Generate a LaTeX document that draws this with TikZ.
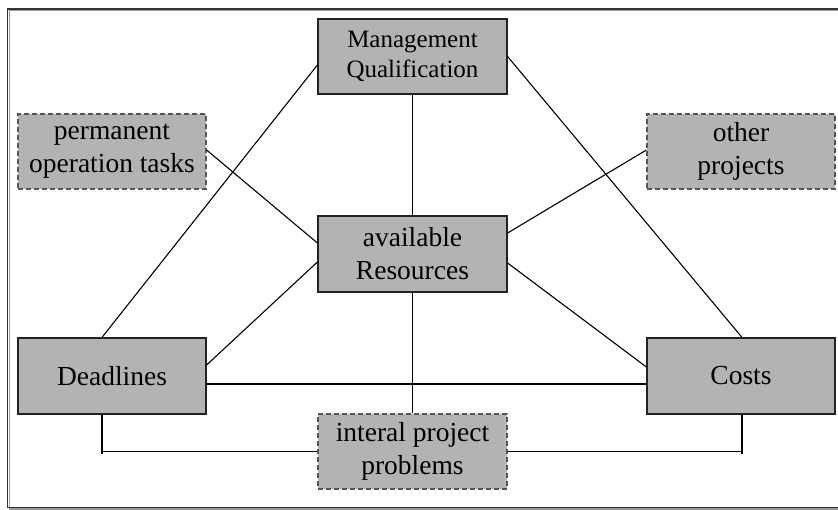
\documentclass[tikz,border=0pt]{standalone}
\usepackage{fontspec}
\setmainfont{Liberation Serif}
\usetikzlibrary{calc}
\definecolor{boxfill}{HTML}{B3B3B3}
\definecolor{boxline}{HTML}{222222}
\definecolor{dashline}{HTML}{555555}
\definecolor{framedark}{HTML}{333333}
\definecolor{frameshade}{HTML}{999999}
\begin{document}
\begin{tikzpicture}[x=1pt,y=-1pt,
  box/.style={draw=boxline,line width=1.2pt,fill=boxfill,minimum width=189pt,
    minimum height=75pt,inner sep=0pt,align=center,
    font=\fontsize{27.5}{33}\selectfont},
  dbox/.style={box,draw=dashline,dash pattern=on 5pt off 3pt},
  link/.style={draw=black,line width=1.1pt}]
\useasboundingbox (0,0) rectangle (838,510);
% outer frame with a light shade
\draw[frameshade,line width=1.3pt] (9.2,10.3) rectangle (850,509);
\draw[framedark,line width=1.3pt] (7.8,9) rectangle (848,507.7);

% nodes
\node[box,font=\fontsize{25}{30}\selectfont] (mgmt) at (412.5,56.5) {Management\\Qualification};
\node[dbox,minimum width=188pt] (perm) at (112,151.5) {permanent\\operation tasks};
\node[dbox,minimum width=188pt] (other) at (741,151.5) {other\\projects};
\node[box,minimum height=76pt] (res) at (412.5,254) {available\\Resources};
\node[box,minimum width=188pt,minimum height=76pt] (dead) at (112,376) {Deadlines};
\node[box,minimum width=188pt,minimum height=76pt] (costs) at (741,376) {Costs};
\node[dbox] (intern) at (412.5,451.5) {interal project\\problems};

% connectors
\draw[link] ([yshift=-8.5pt]mgmt.west) -- ([xshift=-10pt]dead.north);
\draw[link] (mgmt.east) -- ([xshift=1pt]costs.north);
\draw[link] (mgmt.south) -- (res.north);
\draw[link] ([yshift=1.5pt]perm.east) -- ([yshift=11pt]res.west);
\draw[link] ([yshift=1.5pt]other.west) -- ([yshift=21pt]res.east);
\draw[link] ([yshift=-8pt]res.west) -- ([yshift=11pt]dead.east);
\draw[link] ([yshift=-9pt]res.east) -- ([yshift=9pt]costs.west);
\draw[link] (res.south) -- (intern.north);
\draw[link] ([yshift=-8pt]dead.east) -- ([yshift=-8pt]costs.west);
\coordinate (dl) at (102,453.5);
\coordinate (cl) at (742,453.5);
\draw[link] ([xshift=-10pt]dead.south) -- (dl);
\draw[link] (dl |- intern.west) -- (intern.west);
\draw[link] ([xshift=1pt]costs.south) -- (cl);
\draw[link] (cl |- intern.east) -- (intern.east);
\end{tikzpicture}
\end{document}
